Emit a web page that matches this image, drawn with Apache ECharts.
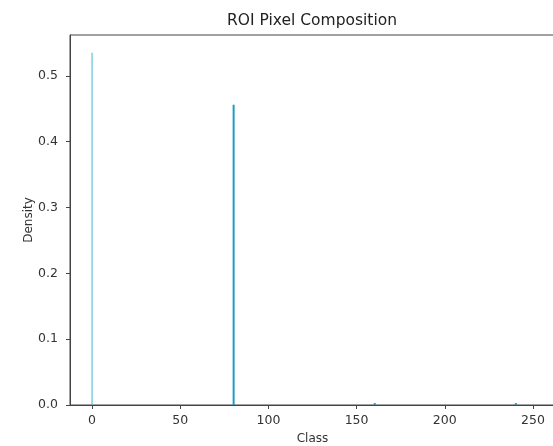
<!DOCTYPE html>
<html>
<head>
<meta charset="utf-8">
<script src="https://cdn.jsdelivr.net/npm/echarts@6/dist/echarts.min.js"></script>
<style>
html, body { margin: 0; padding: 0; background: #fff; }
#chart { width: 553px; height: 446px; }
</style>
</head>
<body>
<div id="chart"></div>
<script>
// 数据
var classValues = [0, 80, 160, 240];
var densityValues = [0.535, 0.456, 0.003, 0.003];
var xTicks = [0, 50, 100, 150, 200, 250];
var yTicks = [0, 0.1, 0.2, 0.3, 0.4, 0.5];

var chart = echarts.init(document.getElementById('chart'));

var mainData = [], thinData = [];
for (var i = 0; i < classValues.length; i++) {
	if (i == 0) thinData.push([classValues[i], densityValues[i]]);
	else mainData.push([classValues[i], densityValues[i]]);
}

var font = 'DejaVu Sans';
var option = {
	animation: false,
	title: {
		text: 'ROI Pixel Composition',
		left: 307,
		textAlign: 'center',
		top: 8,
		textStyle: { fontFamily: font, fontSize: 15.5, fontWeight: 'normal', color: '#222' }
	},
	grid: {
		left: 70, right: -2, top: 35, bottom: 41,
		outerBoundsMode: 'none',
		containLabel: false,
		show: true, borderColor: '#444', borderWidth: 1
	},
	xAxis: {
		type: 'value',
		min: -12.5,
		max: 262.5,
		name: 'Class',
		nameLocation: 'middle',
		nameGap: 28,
		nameMoveOverlap: false,
		nameTextStyle: { fontFamily: font, fontSize: 12, color: '#333' },
		splitLine: { show: false },
		axisLine: { onZero: false, lineStyle: { color: '#444' } },
		axisTick: { length: 4, lineStyle: { color: '#444' }, customValues: xTicks },
		axisLabel: { fontFamily: font, fontSize: 12.5, color: '#333', margin: 9, customValues: xTicks }
	},
	yAxis: {
		type: 'value',
		min: 0,
		max: 0.562,
		name: 'Density',
		nameLocation: 'middle',
		nameGap: 35,
		nameMoveOverlap: false,
		nameTextStyle: { fontFamily: font, fontSize: 12, color: '#333' },
		splitLine: { show: false },
		axisLine: { show: true, onZero: false, lineStyle: { color: '#444' } },
		axisTick: { show: true, length: 4, lineStyle: { color: '#444' }, customValues: yTicks },
		axisLabel: {
			fontFamily: font, fontSize: 12.5, color: '#333', margin: 12,
			customValues: yTicks,
			formatter: function (v) { return v.toFixed(1); }
		}
	},
	series: [{
		type: 'bar',
		data: mainData,
		barWidth: 2,
		barGap: '-100%',
		itemStyle: { color: '#1d9ec0' }
	}, {
		type: 'bar',
		data: thinData,
		barWidth: 1,
		barGap: '-100%',
		itemStyle: { color: '#3cb6d2' }
	}]
};
chart.setOption(option);
</script>
</body>
</html>
